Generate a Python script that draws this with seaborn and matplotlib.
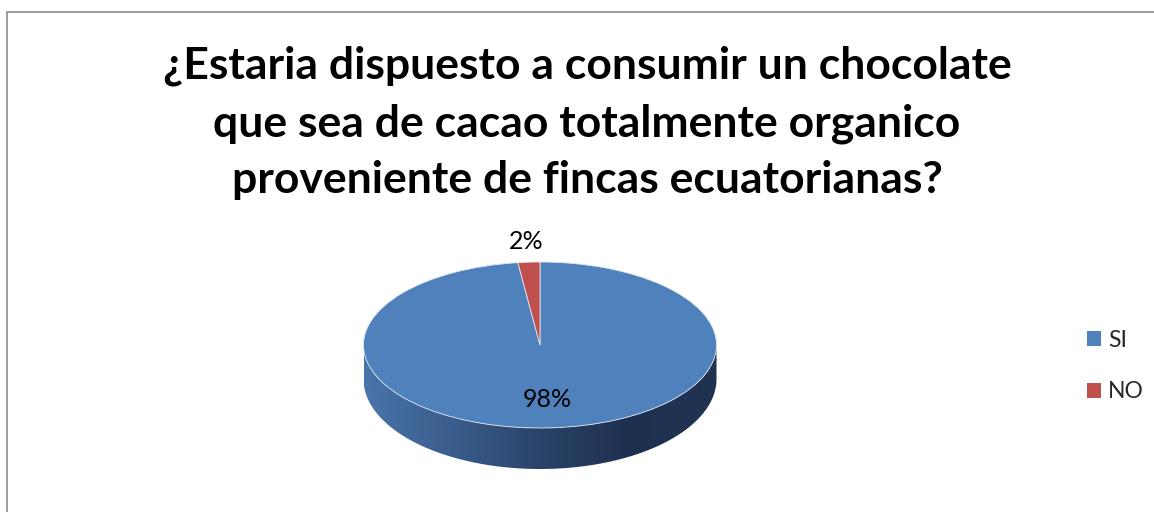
import numpy as np
import matplotlib
matplotlib.use("Agg")
import matplotlib.pyplot as plt
import seaborn as sns
from matplotlib.colors import LinearSegmentedColormap
from matplotlib.patches import Rectangle, Patch, Polygon

# Survey answers
categories = ["SI", "NO"]
shares = [98, 2]
slice_colors = ["#4f81bd", "#c0504d"]
title = ("¿Estaria dispuesto a consumir un chocolate\n"
         "que sea de cacao totalmente organico\n"
         "proveniente de fincas ecuatorianas?")

sns.set_theme(style="white")
plt.rcParams["font.family"] = ["Lato", "DejaVu Sans"]

W, H = 1154, 512
fig = plt.figure(figsize=(W / 100, H / 100), dpi=100)

# Pie axes: one x unit = rx pixels, one y unit = ry pixels (tilted disc look)
cx, cy = 540, 345
rx, ry = 176.5, 83
xl = (-1.1, 1.1)
yl = (-1.7, 1.3)
left = cx + xl[0] * rx
width = (xl[1] - xl[0]) * rx
bottom_img = cy - yl[0] * ry
height = (yl[1] - yl[0]) * ry
ax = fig.add_axes([left / W, (H - bottom_img) / H, width / W, height / H])

# Side band of the disc (front half), shaded from left to right
depth = 34 / ry
bot_ry = 90 / ry
t = np.linspace(np.pi, 2 * np.pi, 300)
top_edge = np.column_stack([np.cos(t), np.sin(t)])
bot_edge = np.column_stack([np.cos(t), -depth + bot_ry * np.sin(t)])[::-1]
band = Polygon(np.vstack([top_edge, bot_edge]), closed=True,
               facecolor="none", edgecolor="none")
ax.add_patch(band)
side_cmap = LinearSegmentedColormap.from_list(
    "side", ["#4a74aa", "#3a5d8c", "#2a4368", "#1e3050", "#203452"])
grad = np.linspace(0, 1, 256).reshape(1, -1)
img = ax.imshow(grad, cmap=side_cmap, aspect="auto",
                extent=(-1, 1, -depth - bot_ry, 0.05), zorder=1)
img.set_clip_path(band)

# Top face
wedges, _, autotexts = ax.pie(
    shares, colors=slice_colors, startangle=90, counterclock=False,
    autopct="%1.0f%%", pctdistance=0.66,
    wedgeprops=dict(linewidth=0.6, edgecolor="#dfe6f0"))
for w in wedges:
    w.set_zorder(2)

# NO label sits outside the disc, above its thin slice
w = wedges[1]
mid = np.deg2rad((w.theta1 + w.theta2) / 2)
autotexts[1].set_position((1.25 * np.cos(mid), 1.25 * np.sin(mid)))
for txt in autotexts:
    txt.set_zorder(4)
    txt.set_fontsize(18)
    txt.set_color("black")

ax.set_xlim(xl)
ax.set_ylim(yl)
ax.set_aspect("auto")
ax.axis("off")

# Title
fig.text(587 / W, 1 - 123 / H, title, ha="center", va="center",
         multialignment="center", fontsize=32, fontweight="bold",
         linespacing=1.5, color="black")

# Legend
handles = [Patch(facecolor=c, edgecolor="none") for c in slice_colors]
fig.legend(handles, categories, loc="center left",
           bbox_to_anchor=(1078 / W, 1 - 366 / H), frameon=False,
           fontsize=16.5, handlelength=0.6, handleheight=0.6,
           handletextpad=0.3, labelspacing=1.35, borderaxespad=0)

# Chart area border
fig.add_artist(Rectangle((6.5 / W, -0.1), 1.2, 1.1 - 11.5 / H,
                         transform=fig.transFigure, fill=False,
                         edgecolor="#8c8c8c", linewidth=1.2))

fig.savefig("out.png", dpi=100)
